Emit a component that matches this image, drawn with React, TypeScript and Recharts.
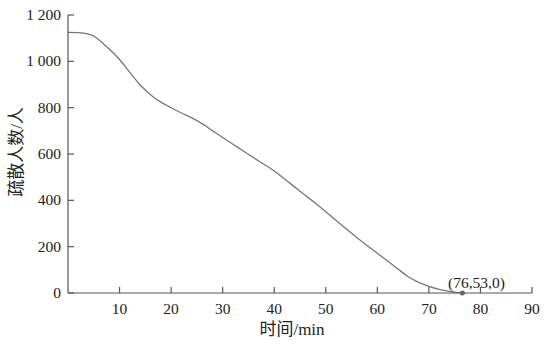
import { LineChart, Line, XAxis, YAxis, Label } from "recharts";

// evacuation curve
const times = [
  0, 2, 4, 5, 6, 7, 8, 10, 12, 14, 16, 18, 20, 22, 24, 26, 28, 30, 32, 34, 36,
  38, 40, 42, 44, 46, 48, 50, 52, 54, 56, 58, 60, 62, 64, 66, 68, 70, 72, 74,
  76.5,
];
const people = [
  1125, 1124, 1117, 1109, 1093, 1073, 1053, 1008, 952, 898, 856, 824, 800, 777,
  756, 731, 701, 671, 642, 613, 584, 556, 527, 492, 457, 422, 387, 351, 313, 276,
  240, 205, 172, 138, 104, 70, 46, 29, 16, 7, 0,
];
const xTicks = [10, 20, 30, 40, 50, 60, 70, 80, 90];
const yTicks = [0, 200, 400, 600, 800, 1000, 1200];
const endLabel = "(76,53,0)";

const data = times.map((t, i) => ({ t, n: people[i] }));

const FONT = "'Liberation Serif', 'Noto Sans CJK SC', serif";
const AXIS = "#555";
const TXT = "#222";

const fmtY = (v: number) =>
  v >= 1000 ? `${Math.floor(v / 1000)} ${String(v % 1000).padStart(3, "0")}` : `${v}`;

const XTick = (props: any) => {
  const { x, y, payload } = props;
  return (
    <g>
      <line x1={x} x2={x} y1={y} y2={y - 6} stroke={AXIS} strokeWidth={1.2} />
      <text x={x} y={y + 21} textAnchor="middle" fontSize={15.5} fill={TXT} fontFamily={FONT}>
        {payload.value}
      </text>
    </g>
  );
};

const YTick = (props: any) => {
  const { x, y, payload } = props;
  return (
    <g>
      <line x1={x} x2={x + 6} y1={y} y2={y} stroke={AXIS} strokeWidth={1.2} />
      <text x={x - 7} y={y + 5} textAnchor="end" fontSize={15.5} fill={TXT} fontFamily={FONT}>
        {fmtY(payload.value)}
      </text>
    </g>
  );
};

const EndDot = (props: any) => {
  const { cx, cy, index } = props;
  if (index !== data.length - 1) return <g key={`d${index}`} />;
  return (
    <g key={`d${index}`}>
      <circle cx={cx} cy={cy} r={2.5} fill="#666" />
      <text x={cx + 14} y={cy - 5} textAnchor="middle" fontSize={15.5} fill={TXT} fontFamily={FONT}>
        {endLabel}
      </text>
    </g>
  );
};

export default function App() {
  return (
    <div style={{ position: "absolute", left: 0, top: 0, background: "#fff" }}>
      <LineChart
        width={554}
        height={344}
        data={data}
        margin={{ top: 15, right: 22, bottom: 0, left: 0 }}>
        <XAxis
          dataKey='t'
          type='number'
          domain={[0, 90]}
          ticks={xTicks}
          height={51}
          tickSize={0}
          tickMargin={0}
          tickLine={false}
          axisLine={{ stroke: AXIS, strokeWidth: 1.2 }}
          tick={<XTick />}
          interval={0}>
          <Label
            content={() => (
              <text x={292} y={335} textAnchor="middle" fontSize={17} fill={TXT} fontFamily={FONT}>
                时间/min
              </text>
            )}
          />
        </XAxis>
        <YAxis
          dataKey='n'
          type='number'
          domain={[0, 1200]}
          ticks={yTicks}
          width={68}
          tickSize={0}
          tickMargin={0}
          tickLine={false}
          axisLine={{ stroke: AXIS, strokeWidth: 1.2 }}
          tick={<YTick />}
          interval={0}>
          <Label
            content={() => (
              <text
                x={16}
                y={152}
                transform='rotate(-90 16 152)'
                textAnchor='middle'
                dominantBaseline='central'
                fontSize={17}
                fill={TXT}
                fontFamily={FONT}>
                疏散人数/人
              </text>
            )}
          />
        </YAxis>
        <Line
          dataKey='n'
          type='monotone'
          stroke='#777'
          strokeWidth={1.3}
          dot={<EndDot />}
          activeDot={false}
          isAnimationActive={false}
        />
      </LineChart>
    </div>
  );
}
